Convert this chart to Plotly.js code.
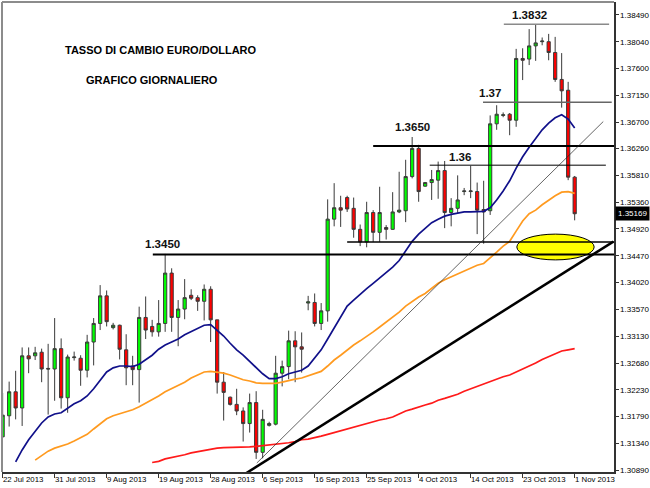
<!DOCTYPE html>
<html>
<head>
<meta charset="utf-8">
<script src="https://cdn.plot.ly/plotly-3.0.1.min.js"></script>
<style>html,body{margin:0;padding:0;background:#fff;}#chart{width:650px;height:488px;}</style>
</head>
<body>
<div id="chart"></div>
<script>
// ---- data (EUR/USD daily, one bar per index) ----
const tickIndex = [0, 8, 16, 24, 32, 40, 48, 56, 64, 72, 80, 88];
const tickLabels = ["22 Jul 2013", "31 Jul 2013", "9 Aug 2013", "19 Aug 2013", "28 Aug 2013", "6 Sep 2013",
  "16 Sep 2013", "25 Sep 2013", "4 Oct 2013", "14 Oct 2013", "23 Oct 2013", "1 Nov 2013"];

const openP = [1.3145,1.3180,1.3220,1.3193,1.3280,1.3280,1.3286,1.3259,1.3258,1.3292,
  1.3210,1.3277,1.3276,1.3256,1.3303,1.3334,1.3380,1.3327,1.3331,1.3290,
  1.3263,1.3257,1.3344,1.3329,1.3320,1.3334,1.3418,1.3344,1.3358,1.3381,
  1.3377,1.3371,1.3391,1.3340,1.3236,1.3211,1.3199,1.3188,1.3167,1.3202,
  1.3119,1.3164,1.3166,1.3251,1.3262,1.3305,1.3295,1.3368,1.3369,1.3334,
  1.3355,1.3508,1.3527,1.3544,1.3526,1.3491,1.3470,1.3519,1.3486,1.3494,
  1.3491,1.3520,1.3522,1.3579,1.3626,1.3563,1.3569,1.3573,1.3589,1.3519,
  1.3526,1.3554,1.3554,1.3554,1.3524,1.3522,1.3667,1.3681,1.3683,1.3673,
  1.3776,1.3775,1.3797,1.3804,1.3804,1.3786,1.3741,1.3723,1.3578];
const highP = [1.3218,1.3237,1.3255,1.3294,1.3294,1.3295,1.3292,1.3300,1.3343,1.3309,
  1.3282,1.3287,1.3281,1.3315,1.3343,1.3398,1.3389,1.3335,1.3332,1.3316,
  1.3280,1.3362,1.3379,1.3340,1.3373,1.3450,1.3426,1.3373,1.3408,1.3391,
  1.3381,1.3399,1.3396,1.3340,1.3253,1.3212,1.3225,1.3194,1.3217,1.3221,
  1.3190,1.3170,1.3280,1.3272,1.3322,1.3321,1.3319,1.3380,1.3384,1.3368,
  1.3541,1.3568,1.3547,1.3547,1.3544,1.3499,1.3537,1.3523,1.3562,1.3498,
  1.3553,1.3587,1.3607,1.3645,1.3632,1.3570,1.3590,1.3604,1.3605,1.3543,
  1.3581,1.3560,1.3597,1.3569,1.3572,1.3681,1.3698,1.3686,1.3685,1.3792,
  1.3793,1.3825,1.3833,1.3811,1.3817,1.3812,1.3785,1.3737,1.3580];
const lowP = [1.3143,1.3162,1.3174,1.3163,1.3251,1.3273,1.3236,1.3182,1.3205,1.3192,
  1.3185,1.3272,1.3230,1.3244,1.3264,1.3323,1.3329,1.3324,1.3274,1.3231,
  1.3231,1.3202,1.3308,1.3312,1.3312,1.3320,1.3320,1.3296,1.3341,1.3373,
  1.3355,1.3339,1.3303,1.3217,1.3172,1.3197,1.3181,1.3137,1.3152,1.3108,
  1.3109,1.3162,1.3164,1.3229,1.3241,1.3236,1.3252,1.3356,1.3329,1.3323,
  1.3337,1.3496,1.3495,1.3520,1.3477,1.3463,1.3461,1.3470,1.3470,1.3474,
  1.3490,1.3518,1.3503,1.3576,1.3537,1.3562,1.3540,1.3542,1.3493,1.3496,
  1.3518,1.3548,1.3543,1.3483,1.3467,1.3515,1.3657,1.3678,1.3648,1.3662,
  1.3740,1.3765,1.3772,1.3798,1.3773,1.3737,1.3694,1.3573,1.3506];
const closeP = [1.3181,1.3220,1.3193,1.3280,1.3275,1.3285,1.3258,1.3258,1.3292,1.3210,
  1.3278,1.3278,1.3256,1.3303,1.3334,1.3380,1.3337,1.3331,1.3291,1.3260,
  1.3257,1.3344,1.3323,1.3320,1.3334,1.3418,1.3344,1.3358,1.3377,1.3376,
  1.3371,1.3391,1.3340,1.3236,1.3219,1.3199,1.3188,1.3167,1.3202,1.3119,
  1.3174,1.3167,1.3251,1.3262,1.3305,1.3295,1.3291,1.3370,1.3334,1.3355,
  1.3508,1.3527,1.3523,1.3525,1.3491,1.3470,1.3519,1.3486,1.3519,1.3491,
  1.3520,1.3523,1.3579,1.3626,1.3554,1.3569,1.3574,1.3589,1.3519,1.3526,
  1.3540,1.3555,1.3555,1.3523,1.3520,1.3667,1.3683,1.3682,1.3673,1.3776,
  1.3773,1.3797,1.3802,1.3805,1.3786,1.3741,1.3722,1.3578,1.3517];

// moving averages (first bar index where each is drawn, then its values)
const maBlueStart = 2;
const maBlue = [1.3103,1.3123,1.3140,1.3155,1.3168,1.3178,1.3183,1.3185,1.3193,1.3200,
  1.3205,1.3213,1.3225,1.3240,1.3253,1.3260,1.3263,1.3263,1.3262,1.3266,
  1.3273,1.3281,1.3291,1.3298,1.3303,1.3308,1.3315,1.3320,1.3325,1.3331,
  1.3332,1.3323,1.3313,1.3301,1.3290,1.3281,1.3271,1.3260,1.3250,1.3242,
  1.3242,1.3245,1.3250,1.3253,1.3256,1.3263,1.3276,1.3290,1.3308,1.3326,
  1.3346,1.3363,1.3373,1.3383,1.3392,1.3401,1.3410,1.3418,1.3428,1.3439,
  1.3455,1.3471,1.3483,1.3493,1.3502,1.3508,1.3513,1.3516,1.3518,1.3520,
  1.3520,1.3521,1.3521,1.3527,1.3540,1.3555,1.3572,1.3593,1.3612,1.3628,
  1.3643,1.3657,1.3668,1.3677,1.3682,1.3675,1.3660];
const maOrangeStart = 5;
const maOrange = [1.3106,1.3114,1.3121,1.3126,1.3129,1.3133,1.3138,1.3144,1.3149,1.3158,
  1.3166,1.3175,1.3180,1.3183,1.3186,1.3190,1.3195,1.3201,1.3206,1.3213,
  1.3220,1.3225,1.3230,1.3236,1.3243,1.3248,1.3253,1.3254,1.3253,1.3251,
  1.3248,1.3244,1.3240,1.3238,1.3235,1.3234,1.3234,1.3234,1.3236,1.3239,
  1.3241,1.3243,1.3247,1.3250,1.3254,1.3263,1.3273,1.3281,1.3290,1.3298,
  1.3305,1.3312,1.3320,1.3328,1.3336,1.3345,1.3353,1.3363,1.3371,1.3378,
  1.3384,1.3392,1.3401,1.3407,1.3412,1.3416,1.3422,1.3427,1.3431,1.3434,
  1.3443,1.3453,1.3463,1.3471,1.3488,1.3505,1.3517,1.3523,1.3532,1.3540,
  1.3547,1.3553,1.3554,1.3551];
const maRedStart = 23;
const maRed = [1.3102,1.3104,1.3108,1.3110,1.3113,1.3115,1.3118,1.3120,1.3122,1.3125,
  1.3126,1.3127,1.3127,1.3128,1.3128,1.3128,1.3129,1.3130,1.3131,1.3133,
  1.3134,1.3135,1.3137,1.3140,1.3141,1.3143,1.3146,1.3149,1.3152,1.3155,
  1.3159,1.3161,1.3164,1.3167,1.3170,1.3173,1.3175,1.3178,1.3183,1.3188,
  1.3191,1.3195,1.3198,1.3201,1.3206,1.3209,1.3212,1.3216,1.3221,1.3225,
  1.3230,1.3234,1.3238,1.3241,1.3245,1.3248,1.3253,1.3257,1.3262,1.3268,
  1.3274,1.3279,1.3284,1.3288,1.3290,1.3292];

// y-axis tick values and price levels
const yTicks = [1.30890,1.31340,1.31790,1.32230,1.32680,1.33130,1.33570,1.34020,1.34470,
  1.34920,1.35360,1.35810,1.36260,1.36700,1.37150,1.37600,1.38040,1.38490];
const levelPrices = [1.3449, 1.3470, 1.3630, 1.3598, 1.3703, 1.3833];
const levelFrom = [23.1, 53.0, 57.0, 65.7, 73.9, 77.1];
const levelLabels = ["1.3450", "1.3650", "1.36", "1.37", "1.3832"];
const lastPrice = 1.35169;
const trendThick = {x: [37.5, 93.97], y: [1.30845, 1.34707]};
const trendThin = {x: [39.1, 92.4], y: [1.31012, 1.36708]};
const zone = {x: [79.1, 91.0], y: [1.3440, 1.3483]};

// ---- build ----
const idx = openP.map((_, i) => i);
const seq = (start, arr) => arr.map((_, k) => start + k);

const traces = [
  {type: 'scatter', mode: 'lines', x: seq(maRedStart, maRed), y: maRed,
   line: {color: '#ff1a1a', width: 1.7}, hoverinfo: 'skip'},
  {type: 'scatter', mode: 'lines', x: seq(maOrangeStart, maOrange), y: maOrange,
   line: {color: '#ff9a1f', width: 1.7}, hoverinfo: 'skip'},
  {type: 'scatter', mode: 'lines', x: seq(maBlueStart, maBlue), y: maBlue,
   line: {color: '#10108a', width: 1.7}, hoverinfo: 'skip'},
  {type: 'candlestick', x: idx, open: openP, high: highP, low: lowP, close: closeP,
   increasing: {line: {color: '#3a3a3a', width: 1}, fillcolor: '#00ff00'},
   decreasing: {line: {color: '#3a3a3a', width: 1}, fillcolor: '#ff0000'},
   whiskerwidth: 0, hoverinfo: 'skip'}
];

const xRight = 94.05;
const levelStyle = [
  {w: 2, c: '#000', x1: xRight},
  {w: 1.5, c: '#000', x1: xRight},
  {w: 2, c: '#000', x1: xRight},
  {w: 1, c: '#000', x1: 92.8},
  {w: 1.5, c: '#666', x1: 93.7},
  {w: 1.5, c: '#8a8a8a', x1: 93.3}
];

const shapes = [];
shapes.push({type: 'circle', xref: 'x', yref: 'y', x0: zone.x[0], x1: zone.x[1], y0: zone.y[0], y1: zone.y[1],
  fillcolor: '#ffff00', line: {color: '#000', width: 1}});
levelPrices.forEach((p, k) => {
  shapes.push({type: 'line', xref: 'x', yref: 'y', x0: levelFrom[k], x1: levelStyle[k].x1, y0: p, y1: p,
    line: {color: levelStyle[k].c, width: levelStyle[k].w}});
});
shapes.push({type: 'line', xref: 'x', yref: 'y', x0: trendThick.x[0], x1: trendThick.x[1], y0: trendThick.y[0], y1: trendThick.y[1],
  line: {color: '#000', width: 2.6}});
shapes.push({type: 'line', xref: 'x', yref: 'y', x0: trendThin.x[0], x1: trendThin.x[1], y0: trendThin.y[0], y1: trendThin.y[1],
  line: {color: '#222', width: 0.7}});
// frame top & left (grey)
shapes.push({type: 'line', xref: 'paper', yref: 'paper', x0: 0, x1: 1, y0: 1, y1: 1, line: {color: '#8c8c8c', width: 2}});
shapes.push({type: 'line', xref: 'paper', yref: 'paper', x0: 0, x1: 0, y0: 0, y1: 1, line: {color: '#8c8c8c', width: 2}});

const labelPos = [
  {x: 24.6, y: 1.3466},
  {x: 63.1, y: 1.3662},
  {x: 70.3, y: 1.3612},
  {x: 74.9, y: 1.3719},
  {x: 81.1, y: 1.3849}
];
const font = 'Liberation Sans, Arial, sans-serif';
const annotations = levelLabels.map((t, k) => ({
  xref: 'x', yref: 'y', x: labelPos[k].x, y: labelPos[k].y, text: t, showarrow: false,
  xanchor: 'center', yanchor: 'middle', font: {family: font, size: 11.5, color: '#111', weight: 'bold'}
}));
annotations.push({xref: 'paper', yref: 'paper', x: 0.2605, y: 0.898, text: 'TASSO DI CAMBIO EURO/DOLLARO',
  showarrow: false, xanchor: 'center', yanchor: 'middle', font: {family: font, size: 11, color: '#000', weight: 'bold'}});
annotations.push({xref: 'paper', yref: 'paper', x: 0.245, y: 0.834, text: 'GRAFICO GIORNALIERO',
  showarrow: false, xanchor: 'center', yanchor: 'middle', font: {family: font, size: 11, color: '#000', weight: 'bold'}});
annotations.push({xref: 'paper', yref: 'y', x: 1, y: lastPrice, xanchor: 'left', yanchor: 'middle', xshift: 1,
  text: lastPrice.toFixed(5), showarrow: false, bgcolor: '#000', borderpad: 2,
  font: {family: font, size: 8, color: '#fff'}});
// date labels, left-aligned at their tick (MetaTrader style)
tickIndex.forEach((xi, k) => {
  annotations.push({xref: 'x', yref: 'paper', x: xi, y: 0, xanchor: 'left', yanchor: 'top',
    xshift: -1, yshift: -2, text: tickLabels[k], showarrow: false, borderpad: 0,
    font: {family: font, size: 7.8, color: '#000'}});
});

const layout = {
  width: 650, height: 488,
  margin: {l: 2, r: 36, t: 2, b: 16, pad: 0},
  paper_bgcolor: '#fff', plot_bgcolor: '#fff',
  showlegend: false,
  xaxis: {
    type: 'linear', range: [-0.1, xRight], showgrid: false, zeroline: false,
    rangeslider: {visible: false},
    showline: true, linecolor: '#333', linewidth: 1.5,
    ticks: 'outside', ticklen: 4, tickcolor: '#333', tickwidth: 1,
    tickmode: 'array', tickvals: tickIndex, showticklabels: false
  },
  yaxis: {
    side: 'right', range: [1.30862, 1.38702], showgrid: false, zeroline: false,
    showline: true, linecolor: '#333', linewidth: 1.5,
    ticks: 'outside', ticklen: 3, tickcolor: '#333',
    tickmode: 'array', tickvals: yTicks, ticktext: yTicks.map(v => v.toFixed(5)),
    tickfont: {family: font, size: 8, color: '#000'}
  },
  shapes: shapes,
  annotations: annotations
};

Plotly.newPlot('chart', traces, layout, {displayModeBar: false, staticPlot: true});
</script>
</body>
</html>
